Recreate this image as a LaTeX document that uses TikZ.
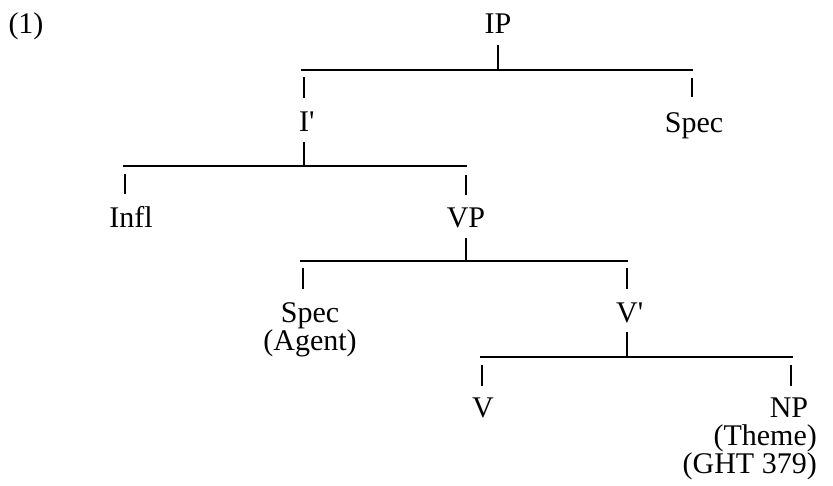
\documentclass[tikz,border=0pt]{standalone}
\usepackage{fontspec}
\newfontfamily\treefont{Liberation Serif}
\begin{document}
\begin{tikzpicture}[x=1pt,y=-1pt,
  lbl/.style={inner sep=0pt, anchor=base, font=\treefont\fontsize{30}{28}\selectfont},
  edge/.style={line width=1.8pt}]
\useasboundingbox (0,0) rectangle (833,485);
% labels (multi-line nodes: base anchor is the last line)
\node[lbl] (n1) at (26,33) {(1)};
\node[lbl] (ip) at (498,33) {IP};
\node[lbl, anchor=base west] (ibar) at (299,131) {I'};
\node[lbl] (spec1) at (694,132) {Spec};
\node[lbl] (infl) at (131,227) {Infl};
\node[lbl] (vp) at (466,227) {VP};
\node[lbl, align=center] (spec2) at (310,350) {Spec\\(Agent)};
\node[lbl, anchor=base west] (vbar) at (616,322) {V'};
\node[lbl] (v) at (483,417) {V};
\node[lbl] (np) at (789,417) {NP};
\node[lbl, align=right, anchor=base east] (theme) at (817,473) {(Theme)\\(GHT 379)};
% bar coordinates
\coordinate (b1l) at (301,70);  \coordinate (b1r) at (693,70);
\coordinate (b2l) at (123,166); \coordinate (b2r) at (467,166);
\coordinate (b3l) at (300,261); \coordinate (b3r) at (628,261);
\coordinate (b4l) at (480,357); \coordinate (b4r) at (793,357);
% level 1
\draw[edge] (b1l) -- (b1r);
\draw[edge] (498,45) -- (498,69);
\draw[edge] (304,77) -- (304,98);
\draw[edge] (692,78) -- (692,97);
% level 2
\draw[edge] (b2l) -- (b2r);
\draw[edge] (304,142) -- (304,166);
\draw[edge] (125,174) -- (125,194);
\draw[edge] (466,175) -- (466,195);
% level 3
\draw[edge] (b3l) -- (b3r);
\draw[edge] (466,238) -- (466,261);
\draw[edge] (303,268) -- (303,289);
\draw[edge] (627,268) -- (627,289);
% level 4
\draw[edge] (b4l) -- (b4r);
\draw[edge] (627,332) -- (627,357);
\draw[edge] (482,365) -- (482,386);
\draw[edge] (791,365) -- (791,386);
\end{tikzpicture}
\end{document}
